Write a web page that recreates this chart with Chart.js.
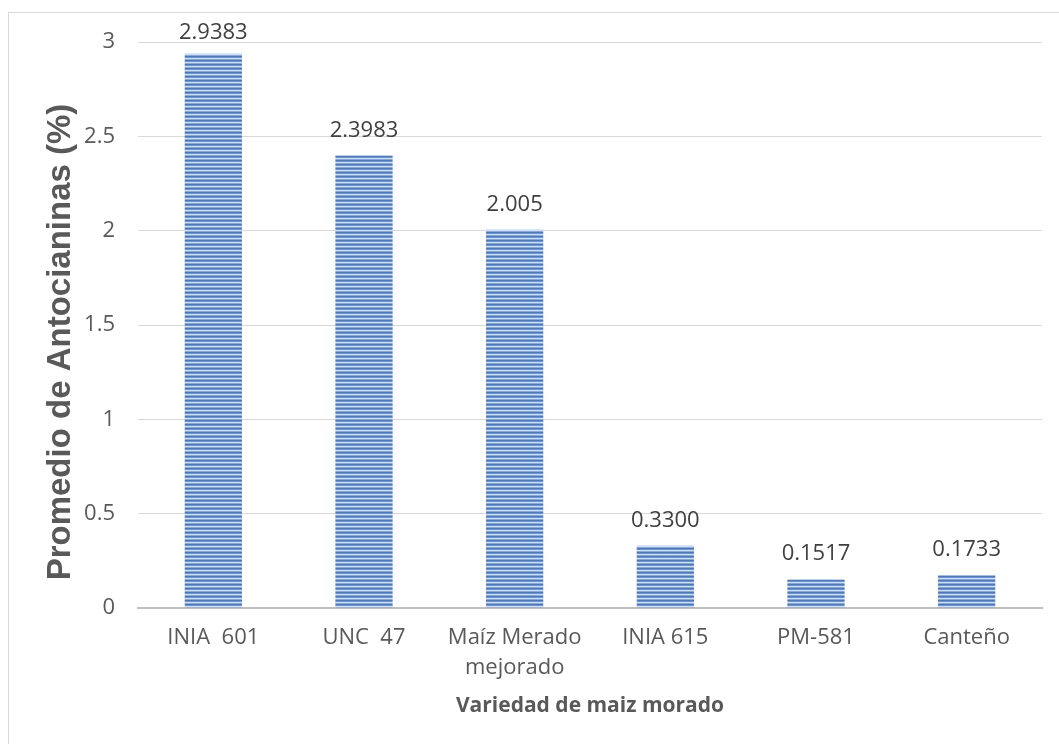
<!DOCTYPE html>
<html>
<head>
<meta charset="utf-8">
<script src="https://cdn.jsdelivr.net/npm/chart.js@4/dist/chart.umd.min.js"></script>
<style>
  html, body { margin: 0; padding: 0; background: #ffffff; }
  #wrap { position: relative; width: 1059px; height: 744px; overflow: hidden; }
  #frame { position: absolute; left: 8px; top: 12px; width: 1100px; height: 800px;
           border: 1.5px solid #d9d9d9; box-sizing: border-box; }
  canvas { position: absolute; left: 0; top: 0; }
</style>
</head>
<body>
<div id="wrap">
  <div id="frame"></div>
  <canvas id="c" width="1059" height="744"></canvas>
</div>
<script>
// Maize varieties and their mean anthocyanin content (%)
const categories = ['INIA  601', 'UNC  47', ['Maíz Merado', 'mejorado'], 'INIA 615', 'PM-581', 'Canteño'];
const valueLabels = ['2.9383', '2.3983', '2.005', '0.3300', '0.1517', '0.1733'];
const values = valueLabels.map(Number);
const yTitle = 'Promedio de Antocianinas (%)';
const xTitle = 'Variedad de maiz morado';

const TEXT = '#595959';
const LABEL_FONT = '"Open Sans", "Liberation Sans", sans-serif';

// Horizontal-stripe fill for the bars
function stripePattern(ctx) {
  const off = document.createElement('canvas');
  off.width = 4; off.height = 4;
  const o = off.getContext('2d');
  const rows = ['#4a78c2', '#6c94d4', '#d3e0f3', '#86a8dc'];
  rows.forEach((c, i) => { o.fillStyle = c; o.fillRect(0, i, 4, 1); });
  return ctx.createPattern(off, 'repeat');
}

// Value labels above each bar and both axis titles
const annotations = {
  id: 'annotations',
  afterDatasetsDraw(chart) {
    const ctx = chart.ctx;
    const area = chart.chartArea;
    const meta = chart.getDatasetMeta(0);
    ctx.save();
    ctx.fillStyle = '#404040';
    ctx.font = '22px ' + LABEL_FONT;
    ctx.textAlign = 'center';
    ctx.textBaseline = 'alphabetic';
    meta.data.forEach((bar, i) => {
      const y = Math.max(bar.y - 19, area.top - 3);
      ctx.fillText(valueLabels[i], bar.x, y);
    });

    ctx.fillStyle = TEXT;
    ctx.font = 'bold 21px ' + LABEL_FONT;
    ctx.textBaseline = 'middle';
    ctx.fillText(xTitle, (area.left + area.right) / 2, 706);

    ctx.translate(61, 342);
    ctx.rotate(-Math.PI / 2);
    ctx.font = 'bold 33px "Liberation Sans", Arial, sans-serif';
    ctx.fillText(yTitle, 0, 0);
    ctx.restore();
  }
};

const canvas = document.getElementById('c');
const ctx = canvas.getContext('2d');

new Chart(ctx, {
  type: 'bar',
  data: {
    labels: categories,
    datasets: [{
      data: values,
      backgroundColor: stripePattern(ctx),
      borderWidth: 0,
      barPercentage: 1,
      categoryPercentage: 0.38
    }]
  },
  options: {
    responsive: false,
    animation: false,
    devicePixelRatio: 1,
    layout: { padding: { left: 0, right: 17, top: 42, bottom: 0 } },
    plugins: { legend: { display: false }, tooltip: { enabled: false } },
    scales: {
      x: {
        grid: { display: false, drawTicks: false },
        border: { display: true, color: '#bfbfbf', width: 2 },
        ticks: {
          color: TEXT,
          font: { family: LABEL_FONT, size: 22, lineHeight: 1.36 },
          padding: 15,
          maxRotation: 0,
          autoSkip: false
        },
        afterFit(scale) { scale.height = 136; }
      },
      y: {
        min: 0,
        max: 3,
        ticks: {
          stepSize: 0.5,
          color: TEXT,
          font: { family: LABEL_FONT, size: 22 },
          padding: 23,
          callback: (v) => String(v)
        },
        grid: { color: '#d9d9d9', lineWidth: 1, drawTicks: false },
        border: { display: false },
        afterFit(scale) { scale.width = 138; }
      }
    }
  },
  plugins: [annotations]
});
</script>
</body>
</html>
